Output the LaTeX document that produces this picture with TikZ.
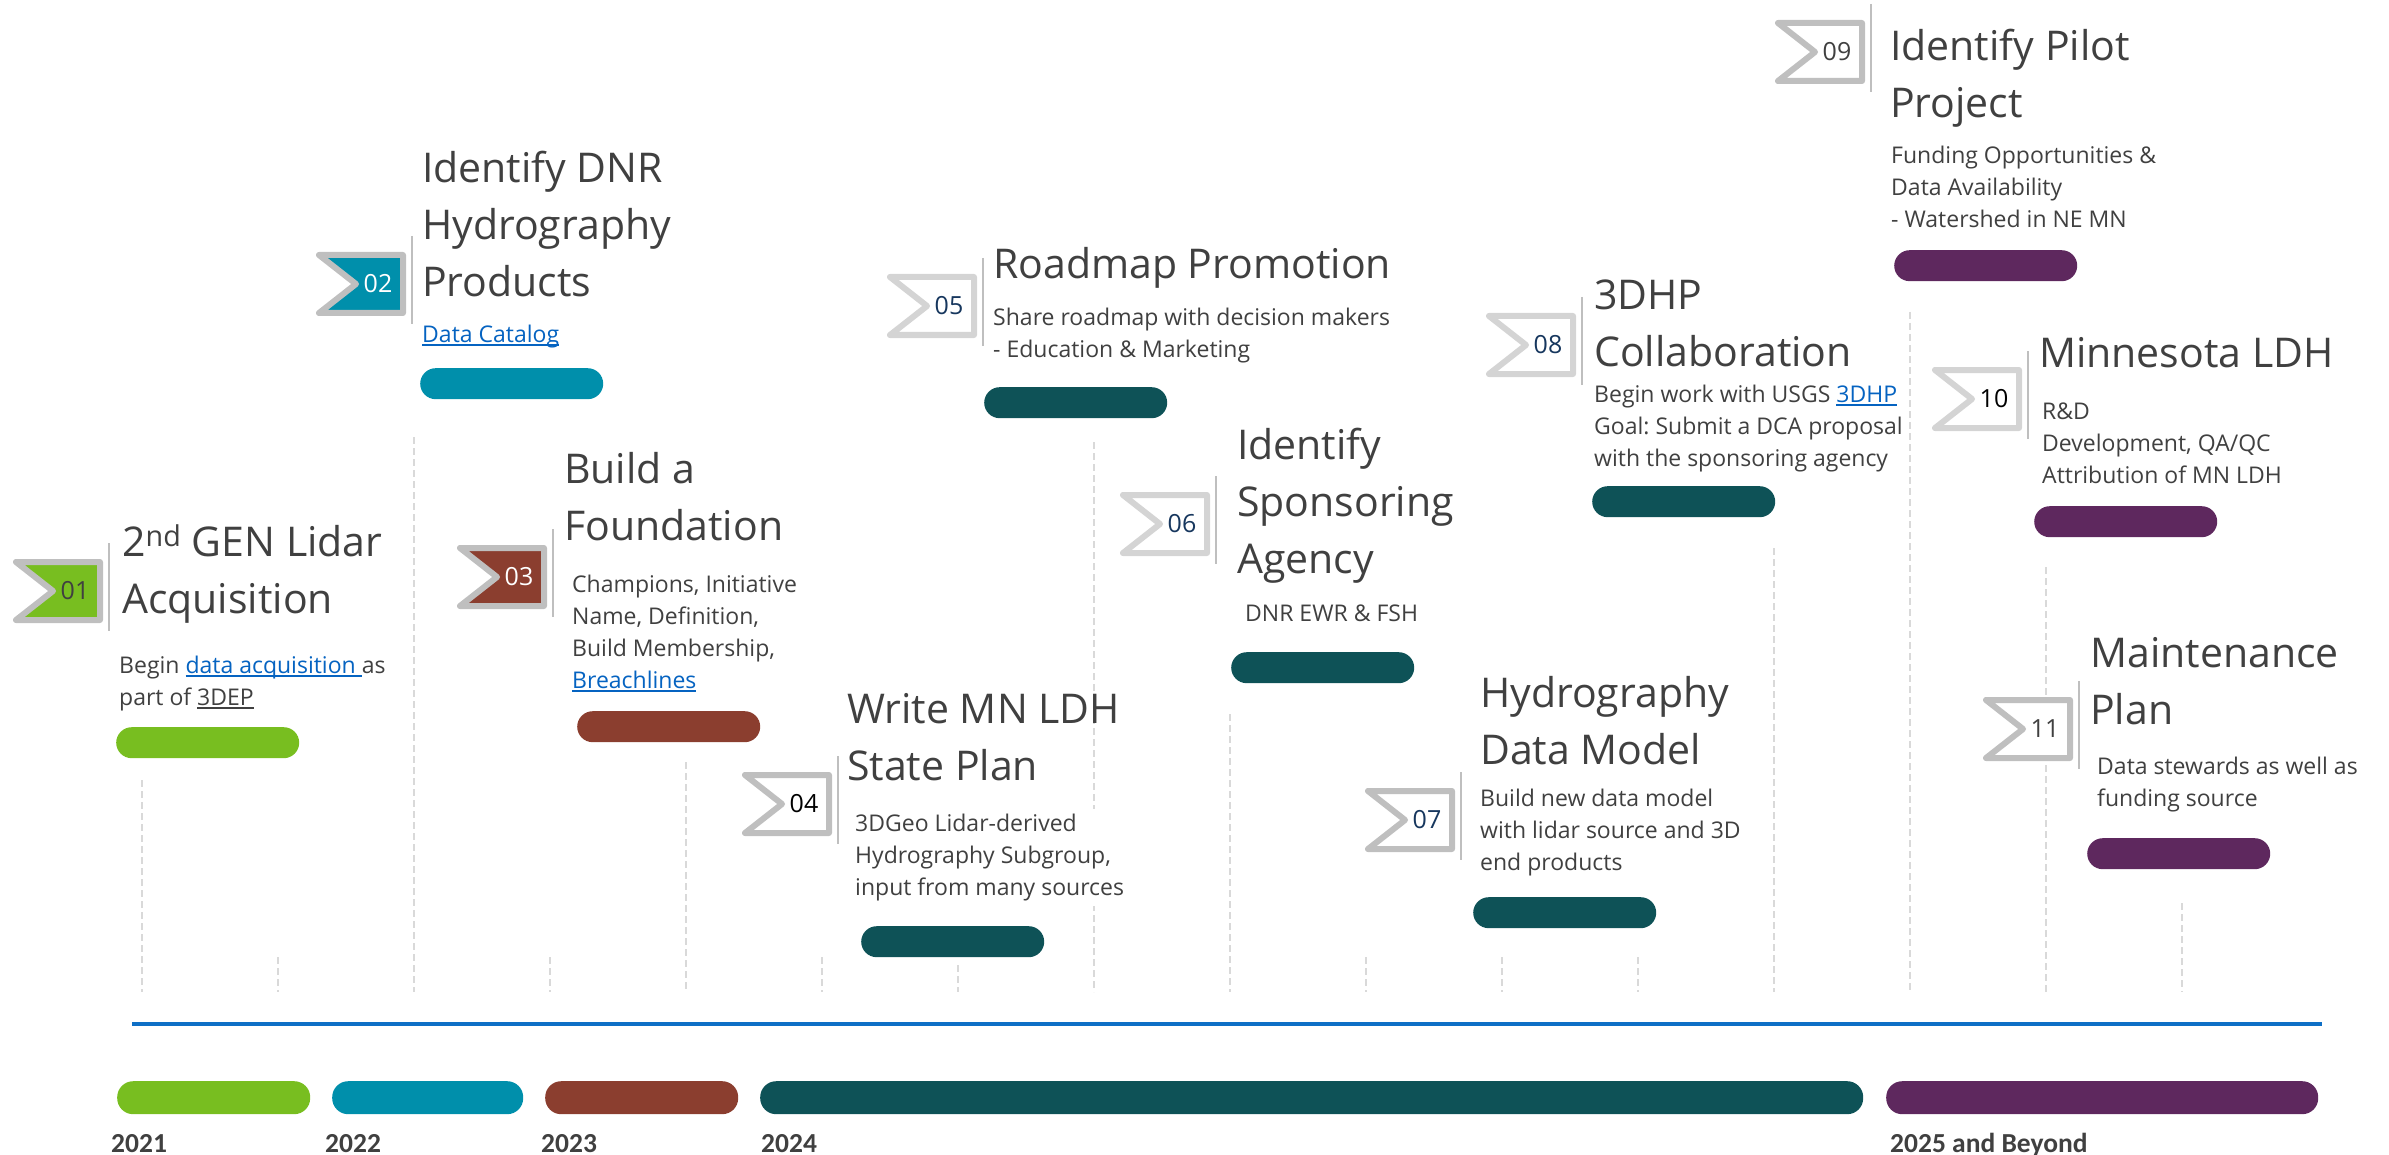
\documentclass[tikz,border=0pt]{standalone}
\usepackage{fontspec}
\setmainfont{Open Sans}
\newfontfamily\yearfont{Carlito}
\frenchspacing

\definecolor{lime}{HTML}{78BE20}
\definecolor{tealblue}{HTML}{008FAB}
\definecolor{rust}{HTML}{8B3E2F}
\definecolor{pine}{HTML}{0E5257}
\definecolor{plum}{HTML}{5E285E}
\definecolor{ink}{HTML}{404040}
\definecolor{navy}{HTML}{17375E}
\definecolor{link}{HTML}{0563C1}
\definecolor{axisblue}{HTML}{0E6FC6}
\definecolor{gridgray}{HTML}{D9D9D9}
\definecolor{framegray}{HTML}{BFBFBF}
\definecolor{framelight}{HTML}{D4D4D4}

\newsavebox\ulbox
\newcommand{\uln}[1]{\sbox\ulbox{#1}\rlap{\rule[-3.5pt]{\wd\ulbox}{1.6pt}}\usebox\ulbox}
\newcommand{\lnk}[1]{\textcolor{link}{\uln{#1}}}

\begin{document}
\begin{tikzpicture}[x=1pt, y=-1pt,
  title/.style={anchor=base west, inner sep=0, align=left, text=ink, font=\fontsize{41}{57}\selectfont},
  body/.style={anchor=base west, inner xsep=0, inner ysep=5, fill=white, align=left, text=ink, font=\fontsize{23}{32}\selectfont},
  num/.style={inner sep=0, font=\fontsize{25}{25}\selectfont},
  pill/.style={anchor=north west, inner sep=0, minimum width=183, minimum height=31, rounded corners=15.5},
  yearbar/.style={anchor=north west, inner sep=0, minimum height=33, rounded corners=16},
  year/.style={anchor=base west, inner sep=0, text=ink, font=\yearfont\bfseries\fontsize{27.5}{30}\selectfont},
  grid/.style={draw=gridgray, line width=1.5, dash pattern=on 7pt off 4pt}]

\useasboundingbox (0,0) rectangle (2389,1155);

\newcommand{\flag}[7][FFFFFF] % [fill][name][x][y][border][numcolor][num]
{
 \definecolor{main}{HTML}{#1}
 \draw[#5, fill=main, line width=6, line join=round] (#3+3,#4+3)
   -- ++(84,0) -- ++(0,58) -- ++(-84,0) -- ++(37,-29) -- cycle;
 \node[num, text=#6] (#2) at (#3+62,#4+32) {#7};
 \draw[framegray, line width=2] (#3+96,#4-16) -- (#3+96,#4+72);
}

% dashed guides
\foreach \x/\t in {142/780, 278/957, 414/437, 550/957, 686/762, 822/957,
  958/965, 1094/442, 1230/714, 1366/957, 1502/957, 1638/957, 1774/548,
  1910/312, 2046/567, 2182/903}
 \draw[grid] (\x,\t) -- (\x,992);

% time axis and years
\draw[axisblue, line width=4] (132,1024) -- (2322,1024);
\node[yearbar, fill=lime, minimum width=193] (y21) at (117,1081) {};
\node[yearbar, fill=tealblue, minimum width=191] (y22) at (332,1081) {};
\node[yearbar, fill=rust, minimum width=193] (y23) at (545,1081) {};
\node[yearbar, fill=pine, minimum width=1103] (y24) at (760,1081) {};
\node[yearbar, fill=plum, minimum width=432] (y25) at (1886,1081) {};
\node[year] (l21) at (111,1152) {2021};
\node[year] (l22) at (325,1152) {2022};
\node[year] (l23) at (541,1152) {2023};
\node[year] (l24) at (761,1152) {2024};
\node[year] (l25) at (1890,1152) {2025 and Beyond};

% titles and bodies sit on the baseline of their last line
% 01
\flag[78BE20]{n01}{13}{559}{framegray}{ink}{01}
\node[title] (t01) at (122,613) {2\textsuperscript{nd} GEN Lidar\\Acquisition};
\node[body] (b01) at (119,705) {Begin \lnk{data acquisition }as\\part of \uln{3DEP}};
\node[pill, fill=lime] (p01) at (116,727) {};

% 02
\flag[008FAB]{n02}{316}{252}{framegray}{white}{02}
\node[title] (t02) at (422,297) {Identify DNR\\Hydrography\\Products};
\node[body] (b02) at (422,342) {\lnk{Data Catalog}};
\node[pill, fill=tealblue] (p02) at (420,368) {};

% 03
\flag[8B3E2F]{n03}{457}{545}{framegray}{white}{03}
\node[title] (t03) at (564,540) {Build a\\Foundation};
\node[body] (b03) at (572,688) {Champions, Initiative\\Name, Definition,\\Build Membership,\\\lnk{Breachlines}};
\node[pill, fill=rust] (p03) at (577,711) {};

% 04
\flag{n04}{742}{772}{framegray}{black}{04}
\node[title] (t04) at (847,780) {Write MN LDH\\State Plan};
\node[body] (b04) at (855,895) {3DGeo Lidar-derived\\Hydrography Subgroup,\\input from many sources};
\node[pill, fill=pine] (p04) at (861,926) {};

% 05
\flag{n05}{887}{274}{framelight}{navy}{05}
\node[title] (t05) at (993,279) {Roadmap Promotion};
\node[body] (b05) at (993,357) {Share roadmap with decision makers\\- Education \& Marketing};
\node[pill, fill=pine] (p05) at (984,387) {};

% 06
\flag{n06}{1120}{492}{framelight}{navy}{06}
\node[title] (t06) at (1237,573) {Identify\\Sponsoring\\Agency};
\node[body] (b06) at (1245,621) {DNR EWR \& FSH};
\node[pill, fill=pine] (p06) at (1231,652) {};

% 07
\flag{n07}{1365}{788}{framegray}{navy}{07}
\node[title] (t07) at (1480,764) {Hydrography\\Data Model};
\node[body] (b07) at (1480,870) {Build new data model\\with lidar source and 3D\\end products};
\node[pill, fill=pine] (p07) at (1473,897) {};

% 08
\flag{n08}{1486}{313}{framelight}{navy}{08}
\node[title] (t08) at (1594,366) {3DHP\\Collaboration};
\node[body] (b08) at (1594,466) {Begin work with USGS \lnk{3DHP}\\Goal: Submit a DCA proposal\\with the sponsoring agency};
\node[pill, fill=pine] (p08) at (1592,486) {};

% 09
\flag{n09}{1775}{20}{framegray}{ink}{09}
\node[title] (t09) at (1890,118) {Identify Pilot\\Project};
\node[body] (b09) at (1891,228) {Funding Opportunities \&\\Data Availability\\- Watershed in NE MN};
\node[pill, fill=plum] (p09) at (1894,250) {};

% 10
\flag{n10}{1932}{367}{framelight}{black}{10}
\node[title] (t10) at (2039,367) {Minnesota LDH};
\node[body] (b10) at (2042,483) {R\&D\\Development, QA/QC\\Attribution of MN LDH};
\node[pill, fill=plum] (p10) at (2034,506) {};

% 11
\flag{n11}{1983}{697}{framegray}{ink}{11}
\node[title] (t11) at (2090,724) {Maintenance\\Plan};
\node[body] (b11) at (2097,806) {Data stewards as well as\\funding source};
\node[pill, fill=plum] (p11) at (2087,838) {};

\end{tikzpicture}
\end{document}
